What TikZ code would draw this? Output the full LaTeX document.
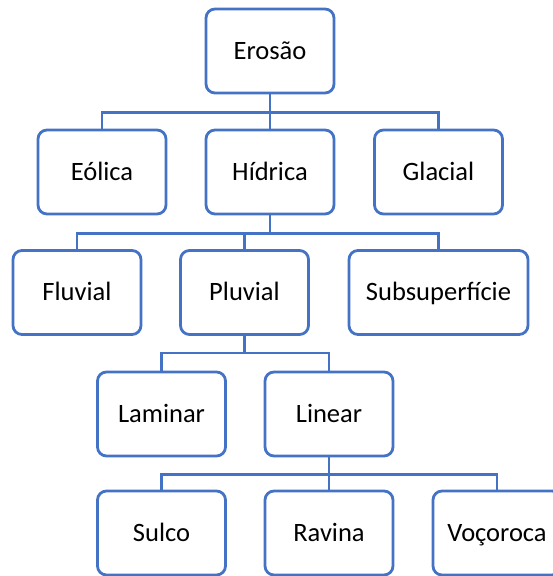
\documentclass[tikz,border=0pt]{standalone}
\usepackage{fontspec}
\setmainfont{Carlito}
\usepackage{tikz}
\definecolor{boxblue}{HTML}{4472C4}

\tikzset{
  box/.style={draw=boxblue, line width=2.8pt, rounded corners=9pt, fill=white,
    minimum width=128pt, minimum height=84pt, inner sep=0pt,
    text height=16.5pt, text depth=0pt,
    font=\fontsize{26.5}{30}\selectfont},
  link/.style={draw=boxblue, line width=2.8pt}
}

\begin{document}
\begin{tikzpicture}[x=1pt, y=-1pt]
      \useasboundingbox (0,0) rectangle (553,576);
      \clip (0,0) rectangle (553,576);
      % Define nodes
      \node[box] (erosao)  at (270,51)    {Erosão};
      \node[box] (eolica)  at (102,172)   {Eólica};
      \node[box] (hidrica) at (270,172)   {Hídrica};
      \node[box] (glacial) at (438.5,172) {Glacial};
      \node[box] (fluvial) at (77,292.5)  {Fluvial};
      \node[box] (pluvial) at (244.5,292.5) {Pluvial};
      \node[box, minimum width=179pt] (subsup) at (438.5,292.5) {Subsuperfície};
      \node[box] (laminar) at (161.5,414) {Laminar};
      \node[box] (linear)  at (329,414)   {Linear};
      \node[box] (sulco)   at (161.5,533) {Sulco};
      \node[box] (ravina)  at (329,533)   {Ravina};
      \node[box] (vocoroca) at (497,533)  {Voçoroca};
      % Connectors
      \draw[link] (erosao.south) -- ++(0,18) -| (eolica.north);
      \draw[link] (erosao.south) -- ++(0,18) -| (glacial.north);
      \draw[link] (erosao.south) -- (hidrica.north);
      \draw[link] (hidrica.south) -- ++(0,18) -| (fluvial.north);
      \draw[link] (hidrica.south) -- ++(0,18) -| (pluvial.north);
      \draw[link] (hidrica.south) -- ++(0,18) -| (subsup.north);
      \draw[link] (pluvial.south) -- ++(0,17) -| (laminar.north);
      \draw[link] (pluvial.south) -- ++(0,17) -| (linear.north);
      \draw[link] (linear.south) -- ++(0,17) -| (sulco.north);
      \draw[link] (linear.south) -- (ravina.north);
      \draw[link] (linear.south) -- ++(0,17) -| (vocoroca.north);
\end{tikzpicture}
\end{document}
